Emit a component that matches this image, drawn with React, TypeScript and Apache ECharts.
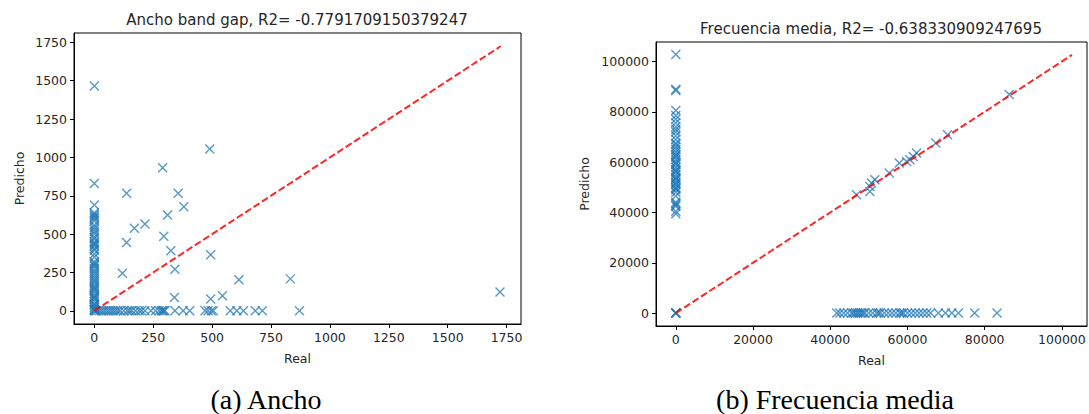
import React, { useEffect, useRef } from "react";
import * as echarts from "echarts";

// ---------- Data: Ancho band gap ----------
const anchoTicks = [0, 250, 500, 750, 1000, 1250, 1500, 1750];
// predicted values where the real value is 0
const anchoZeroColPred = [0, 5, 10, 20, 30, 40, 45, 60, 75, 85, 90, 100, 115, 130, 140, 150, 160, 175, 190, 200, 215, 230, 245, 260, 275, 290, 300, 310, 320, 350, 370, 395, 405, 420, 430, 440, 450, 470, 480, 500, 515, 530, 545, 560, 585, 600, 610, 620, 630, 640, 690, 830, 1465];
// real values where the prediction is 0
const anchoZeroRowReal = [5, 10, 20, 30, 40, 50, 60, 70, 80, 90, 100, 110, 125, 140, 150, 160, 175, 190, 200, 215, 240, 260, 275, 285, 290, 295, 300, 342, 377, 405, 470, 483, 497, 505, 577, 605, 633, 683, 713, 871];
// remaining points
const anchoOtherReal = [490, 290, 137, 356, 380, 311, 215, 170, 295, 137, 325, 494, 342, 119, 614, 340, 494, 544, 832, 1722];
const anchoOtherPred = [1055, 933, 766, 766, 679, 625, 566, 538, 486, 445, 391, 365, 271, 245, 202, 87, 76, 98, 208, 122];
const anchoLineMax = 1725;

// ---------- Data: Frecuencia media ----------
const freqTicks = [0, 20000, 40000, 60000, 80000, 100000];
const freqZeroColPred = [0, 0, 0, 0, 39500, 40500, 42500, 43000, 43500, 44000, 46500, 48000, 49000, 49500, 50000, 51000, 51500, 52000, 53000, 53500, 54000, 55000, 56000, 56500, 57000, 58000, 59000, 59500, 60000, 61000, 62000, 62500, 63000, 64000, 65000, 66000, 67000, 67500, 69000, 70500, 72000, 73000, 74000, 75500, 77000, 78500, 80500, 88500, 89000, 102800];
const freqZeroRowReal = [41700, 42500, 43500, 44500, 45500, 46000, 46500, 47000, 47500, 48000, 48500, 49000, 50000, 51000, 52000, 52500, 53000, 54000, 55000, 56000, 57000, 58000, 58500, 59000, 60000, 61000, 62000, 63000, 64000, 65000, 66000, 68000, 69800, 71500, 73200, 77400, 83200];
const freqDiagReal = [86350, 70380, 67360, 62350, 61480, 60620, 59760, 57870, 55270, 51550, 50690, 50260, 50260, 46810];
const freqDiagPred = [86850, 70900, 67600, 63600, 62270, 60960, 60280, 59620, 55650, 52990, 51660, 50320, 48330, 47010];
const freqLineMax = 102600;

const BLUE = "#1f77b4";
const TEXT = "#262626";
const FONT = "'DejaVu Sans', sans-serif";

function buildPoints(colPred: number[], rowReal: number[], otherReal: number[], otherPred: number[]) {
  const pts: number[][] = [];
  colPred.forEach((p) => pts.push([0, p]));
  rowReal.forEach((r) => pts.push([r, 0]));
  otherReal.forEach((r, i) => pts.push([r, otherPred[i]]));
  return pts;
}

function makeAxis(idx: number, min: number, max: number, ticks: number[], name: string, nameGap: number) {
  return {
    type: "value",
    gridIndex: idx,
    min,
    max,
    name,
    nameLocation: "middle",
    nameGap,
    nameTextStyle: { fontFamily: FONT, fontSize: 12.5, color: TEXT },
    axisLine: { show: true, onZero: false, lineStyle: { color: "#000", width: 1 } },
    axisTick: { show: true, customValues: ticks, length: 4, lineStyle: { color: "#000", width: 1 } },
    axisLabel: {
      customValues: ticks,
      margin: 7,
      fontFamily: FONT,
      fontSize: 12.5,
      color: TEXT,
      formatter: (v: number) => String(v),
    },
    splitLine: { show: false },
  };
}

const xSymbol = "path://M0,0L10,10M10,0L0,10";

export default function App() {
  const ref = useRef<HTMLDivElement>(null);
  useEffect(() => {
    if (!ref.current) return;
    const chart = echarts.init(ref.current, undefined, { renderer: "svg" });
    const anchoPts = buildPoints(anchoZeroColPred, anchoZeroRowReal, anchoOtherReal, anchoOtherPred);
    const freqPts = buildPoints(freqZeroColPred, freqZeroRowReal, freqDiagReal, freqDiagPred);
    const scatterStyle = {
      color: "none",
      borderColor: BLUE,
      borderWidth: 1.4,
      opacity: 0.75,
    };
    const lineStyle = { color: "#ff0000", width: 2, opacity: 0.85, type: [7, 3] };
    chart.setOption({
      animation: false,
      backgroundColor: "#fff",
      grid: [
        { left: 74, top: 33, width: 447, height: 291, show: true, borderColor: "#000", borderWidth: 1, backgroundColor: "transparent" },
        { left: 656, top: 42, width: 431, height: 284, show: true, borderColor: "#000", borderWidth: 1, backgroundColor: "transparent" },
      ],
      xAxis: [
        makeAxis(0, -86.25, 1811.25, anchoTicks, "Real", 28),
        makeAxis(1, -5130, 106500, freqTicks, "Real", 28),
      ],
      yAxis: [
        makeAxis(0, -86.25, 1811.25, anchoTicks, "Predicho", 48),
        makeAxis(1, -5130, 107730, freqTicks, "Predicho", 65),
      ],
      series: [
        {
          type: "scatter",
          xAxisIndex: 0,
          yAxisIndex: 0,
          data: anchoPts,
          symbol: xSymbol,
          symbolSize: 9,
          itemStyle: scatterStyle,
          emphasis: { disabled: true },
        },
        {
          type: "line",
          xAxisIndex: 0,
          yAxisIndex: 0,
          data: [[0, 0], [anchoLineMax, anchoLineMax]],
          symbol: "none",
          lineStyle,
          z: 5,
        },
        {
          type: "scatter",
          xAxisIndex: 1,
          yAxisIndex: 1,
          data: freqPts,
          symbol: xSymbol,
          symbolSize: 9,
          itemStyle: scatterStyle,
          emphasis: { disabled: true },
        },
        {
          type: "line",
          xAxisIndex: 1,
          yAxisIndex: 1,
          data: [[0, 0], [freqLineMax, freqLineMax]],
          symbol: "none",
          lineStyle,
          z: 5,
        },
      ],
      graphic: [
        {
          type: "text",
          x: 297,
          y: 20,
          style: { text: "Ancho band gap, R2= -0.7791709150379247", font: `15px ${FONT}`, fill: TEXT, align: "center", verticalAlign: "middle" },
        },
        {
          type: "text",
          x: 871,
          y: 29,
          style: { text: "Frecuencia media, R2= -0.638330909247695", font: `15px ${FONT}`, fill: TEXT, align: "center", verticalAlign: "middle" },
        },
        {
          type: "text",
          x: 266,
          y: 399,
          style: { text: "(a) Ancho", font: "28px 'Liberation Serif', serif", fill: "#000", align: "center", verticalAlign: "middle" },
        },
        {
          type: "text",
          x: 835,
          y: 399,
          style: { text: "(b) Frecuencia media", font: "28px 'Liberation Serif', serif", fill: "#000", align: "center", verticalAlign: "middle" },
        },
      ],
    });
    return () => chart.dispose();
  }, []);
  return <div ref={ref} style={{ position: "absolute", left: 0, top: 0, width: 1089, height: 414 }} />;
}
